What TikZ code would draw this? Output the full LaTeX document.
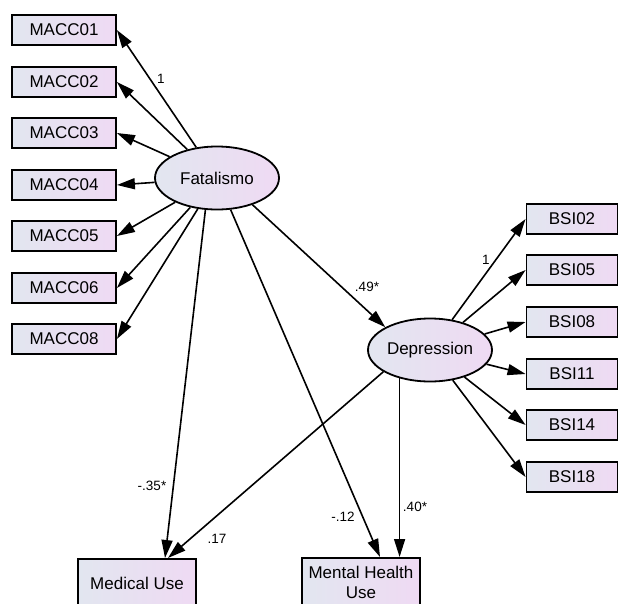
\documentclass[tikz,border=0pt]{standalone}
\usepackage{fontspec}
\setmainfont{Liberation Sans}
\usetikzlibrary{shapes.geometric,arrows.meta}
\definecolor{shadeleft}{RGB}{226,230,240}
\definecolor{shaderight}{RGB}{239,218,243}
\begin{document}
\begin{tikzpicture}[x=1pt,y=-1pt,
  obs/.style={draw,line width=1.8pt,left color=shadeleft,right color=shaderight,
    minimum height=30pt,inner sep=0pt,font=\fontsize{17}{20}\selectfont},
  lat/.style={draw,ellipse,line width=1.8pt,left color=shadeleft,right color=shaderight,
    minimum width=124pt,minimum height=63pt,inner sep=0pt,font=\fontsize{17}{20}\selectfont},
  effect/.style={line width=1.6pt,-{Triangle[length=18pt,width=11pt]}},
  coef/.style={font=\fontsize{13.5}{15}\selectfont,inner sep=0pt}]
\useasboundingbox (0,0) rectangle (619,603);
\clip (0,0) rectangle (619,603);
\node[lat] (fat) at (217,178) {Fatalismo};
\node[lat] (dep) at (430,350) {Depression};
\foreach \i/\y in {01/30,02/82,03/133,04/185,05/236,06/288,08/339}
  \node[obs,minimum width=104pt] (m\i) at (64,\y) {MACC\i};
\foreach \i/\y in {02/219,05/270,08/322,11/374,14/425,18/477}
  \node[obs,minimum width=91pt] (b\i) at (572,\y) {BSI\i};
\node[obs,minimum width=118pt,minimum height=50pt,anchor=north] (med) at (137,558) {Medical Use};
\node[obs,minimum width=118pt,minimum height=50pt,anchor=north,align=center] (mhu) at (361,557) {Mental Health\\Use};
\foreach \i in {01,02,03,04,05,06,08}
  \draw[effect] (fat) -- (m\i.east);
\foreach \i in {02,05,08,11,14,18}
  \draw[effect] (dep) -- (b\i.west);
\draw[effect] (fat.-37) -- (dep.153);
\draw[effect] (fat.250) -- ([xshift=28pt]med.north);
\draw[effect] (fat) -- ([xshift=19pt]mhu.north);
\draw[effect] (dep.205) -- ([xshift=31pt]med.north);
\draw[effect] (dep.223) -- (dep.223 |- mhu.north);
\node[coef] (l1) at (161,79) {1};
\node[coef] (l2) at (486,260) {1};
\node[coef] (l3) at (367,287) {.49*};
\node[coef] (l4) at (152,486) {-.35*};
\node[coef] (l5) at (217,539) {.17};
\node[coef] (l6) at (343,517) {-.12};
\node[coef] (l7) at (415,507) {.40*};
\end{tikzpicture}
\end{document}
